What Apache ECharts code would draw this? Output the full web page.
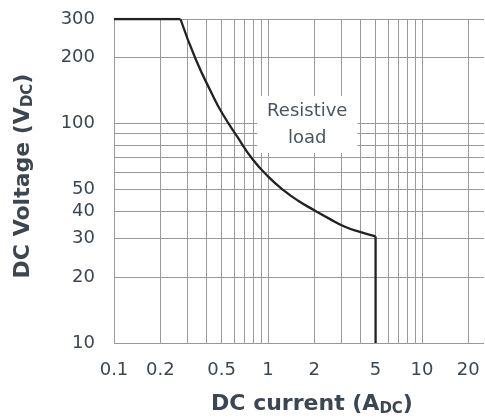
<!DOCTYPE html>
<html><head><meta charset="utf-8">
<script src="https://cdn.jsdelivr.net/npm/echarts@6/dist/echarts.min.js"></script>
<style>html,body{margin:0;padding:0;background:#fff}#c{width:485px;height:420px}</style>
</head><body><div id="c"></div>
<script>
// Data
const currentA = [0.1, 0.27, 0.34, 0.43, 0.5, 0.63, 0.79, 1.0, 1.26, 1.58, 2.0, 2.5, 3.16, 4.0, 5, 5];
const voltageV = [300, 300, 196, 138, 112.7, 87.5, 69.2, 57.5, 49.8, 44.4, 40.3, 36.9, 33.9, 32.0, 30.6, 10];
const xTickLabels = [0.1, 0.2, 0.5, 1, 2, 5, 10, 20];
const yTickLabels = [10, 20, 30, 40, 50, 100, 200, 300];
const xGridValues = [0.1,0.2,0.3,0.4,0.5,0.6,0.7,0.8,0.9,1,2,3,4,5,6,7,8,9,10,20];
const yGridValues = [10,20,30,40,50,60,70,80,90,100,200,300];
const annotation = {x: 1.8, y: 99, text: 'Resistive\nload'};

const pts = currentA.map((x, i) => [x, voltageV[i]]);
const flatPart = pts.slice(0, 2);
const curvePart = pts.slice(1, 15);
const dropPart = pts.slice(14);

const TXT = '#3c4650';
const FONT = 'DejaVu Sans';
const titleRich = {
  b: {fontFamily: FONT, fontSize: 22, fontWeight: 'bold', color: TXT, lineHeight: 26},
  s: {fontFamily: FONT, fontSize: 15, fontWeight: 'bold', color: TXT, lineHeight: 15, padding: [10, 0, 0, 0]}
};
const gridLine = {color: '#999', width: 1, type: 'solid'};
const curveStyle = {color: '#222', width: 2.3};
const chart = echarts.init(document.getElementById('c'), null, {renderer: 'canvas'});
chart.setOption({
  backgroundColor: '#fff',
  animation: false,
  grid: {left: 114, top: 19, right: 1, bottom: 77, containLabel: false, outerBoundsMode: 'none'},
  xAxis: {
    type: 'log', min: 0.1, max: 25.3, logBase: 10,
    axisLine: {show: false}, axisTick: {show: false}, splitLine: {show: false},
    axisLabel: {customValues: xTickLabels, color: TXT, fontFamily: FONT, fontSize: 18, margin: 18,
      formatter: v => String(+(+v).toPrecision(3))},
    name: '{b|DC current (A}{s|DC}{b|)}', nameLocation: 'middle', nameGap: 48,
    nameTextStyle: {rich: titleRich, padding: [0, 0, 0, 26]}
  },
  yAxis: {
    type: 'log', min: 10, max: 300, logBase: 10,
    axisLine: {show: false}, axisTick: {show: false}, splitLine: {show: false},
    axisLabel: {customValues: yTickLabels, color: TXT, fontFamily: FONT, fontSize: 18, margin: 19,
      formatter: v => String(+(+v).toPrecision(3))},
    name: '{b|DC Voltage (V}{s|DC}{b|)}', nameLocation: 'middle', nameGap: 78, nameRotate: 90,
    nameTextStyle: {rich: titleRich, padding: [0, 0, 0, 10]}
  },
  series: [
    {
      type: 'line', data: [], silent: true,
      markLine: {
        silent: true, symbol: 'none', animation: false, label: {show: false},
        lineStyle: gridLine,
        data: xGridValues.map(v => ({xAxis: v})).concat(yGridValues.map(v => ({yAxis: v})))
      }
    },
    {type: 'line', data: flatPart, showSymbol: false, lineStyle: curveStyle, z: 5},
    {type: 'line', data: curvePart, smooth: 0.5, showSymbol: false, lineStyle: curveStyle, z: 5},
    {type: 'line', data: dropPart, showSymbol: false, lineStyle: curveStyle, z: 5},
    {
      type: 'scatter', data: [], silent: true,
      markPoint: {
        silent: true, animation: false,
        data: [{coord: [annotation.x, annotation.y], value: annotation.text}],
        symbol: 'rect', symbolSize: [100, 57],
        itemStyle: {color: '#fff'},
        label: {show: true, position: 'inside', formatter: annotation.text, color: '#4a5560',
          fontFamily: FONT, fontSize: 18, lineHeight: 27}
      },
      z: 6
    }
  ]
});
</script></body></html>
